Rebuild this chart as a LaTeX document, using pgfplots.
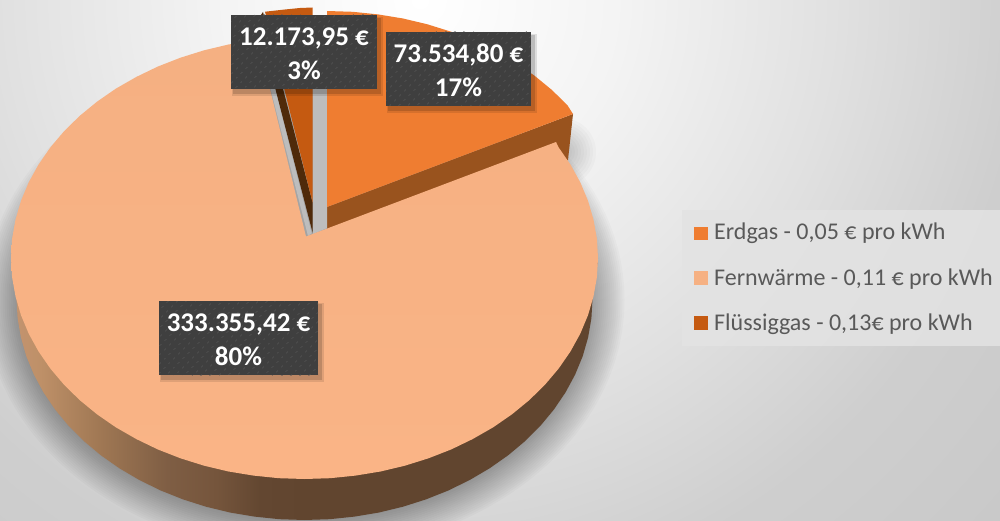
\documentclass[border=0pt]{standalone}
\usepackage{pgfplots}
\pgfplotsset{compat=1.18}
\usepackage{fontspec}
\setmainfont{Carlito}
\usetikzlibrary{patterns.meta}
\definecolor{erd}{HTML}{EF7D31}
\definecolor{erdside}{HTML}{99531E}
\definecolor{fern}{HTML}{F6B183}
\definecolor{ferntop}{HTML}{F5B082}
\definecolor{fernbot}{HTML}{FAB486}
\definecolor{fernside}{HTML}{61452F}
\definecolor{flue}{HTML}{C55A11}
\definecolor{flueside}{HTML}{4F2A0A}
\definecolor{wall}{HTML}{BDBDBD}
\definecolor{labbg}{HTML}{3F3F3F}
\definecolor{labdot}{HTML}{555555}
\definecolor{legtxt}{HTML}{595959}
\definecolor{sa}{HTML}{C49470}
\definecolor{sb}{HTML}{BE9068}
\definecolor{sc}{HTML}{A07854}
\definecolor{sd}{HTML}{7F5E44}
\definecolor{se}{HTML}{75553C}
\definecolor{sf}{HTML}{634731}
\definecolor{sg}{HTML}{61452F}
\pgfdeclareradialshading{bgshade}{\pgfpoint{0bp}{0bp}}{%
 color(0bp)=(white); color(6.25bp)=(white!95.5!black); color(13.1bp)=(white!88!black);
 color(18.75bp)=(white!81!black); color(25bp)=(white!78.5!black); color(50bp)=(white!78.5!black)}
\pgfdeclarehorizontalshading{sideL}{100bp}{%
 color(0bp)=(sa); color(25bp)=(sa); color(30bp)=(sb); color(40bp)=(sc);
 color(51.6bp)=(sd); color(60bp)=(se); color(67.4bp)=(sf); color(75bp)=(sg); color(100bp)=(sg)}
\newcommand{\lab}[6]{%
 \fill[black,opacity=.10] (axis cs:#1+1,#2+2) rectangle (axis cs:#3+6,#4+7);
 \fill[black,opacity=.15] (axis cs:#1+2,#2+3) rectangle (axis cs:#3+4,#4+5);
 \fill[labbg] (axis cs:#1,#2) rectangle (axis cs:#3,#4);
 \fill[pattern={Dots[distance=6.4pt,angle=45,radius=1pt]},pattern color=labdot] (axis cs:#1,#2) rectangle (axis cs:#3,#4);
 \node[text=white,font=\fontsize{27}{30}\selectfont\bfseries,anchor=center,inner sep=0pt] at (axis cs:{(#1+#3)/2},#2+23) {#5};
 \node[text=white,font=\fontsize{27}{30}\selectfont\bfseries,anchor=center,inner sep=0pt] at (axis cs:{(#1+#3)/2},#2+55) {#6};
}
\begin{document}
\begin{tikzpicture}
\useasboundingbox (0,0) rectangle (1000pt,521pt);
\begin{scope}[x=1pt,y=-1pt,shift={(0pt,521pt)}]
\clip (0,0) rectangle (1000,521);
\shade[shading=bgshade] (420,0) circle (800);
\foreach \k in {0,2,...,32}{
 \fill[black,opacity=.018] (304.5,300) ellipse ({288+\k} and {221+\k});
}
\foreach \k in {4,7,...,34}{
 \fill[black,opacity=.02] (562,152) circle (\k);
}
\end{scope}
\begin{axis}[at={(0,0)},anchor=south west,scale only axis,width=1000pt,height=521pt,
 xmin=0,xmax=1000,ymin=0,ymax=521,y dir=reverse,hide axis,clip=false]
% Fluessiggas: inner wall, top
\addplot[fill=flueside,draw=none] coordinates {(257.5,20)(263,12)(312.7,203)(312.7,233)} -- cycle;
\addplot[fill=wall,draw=none] coordinates {(253,20)(257.5,20)(311.7,233.3)(308,236)} -- cycle;
\addplot[fill=flue,draw=none] coordinates {(312.7,203)(312.7,7.5)(300,8)(285,9.5)(265,11.7)} -- cycle;
% Erdgas: front wall, inner wall, top
\addplot[fill=erdside,draw=none] coordinates {(327,207)(573,114)(568,160)(327,255)} -- cycle;
\addplot[fill=wall,draw=none] coordinates {(313,20)(327,20)(327,228)(313,234)} -- cycle;
\addplot[fill=erd,draw=none] coordinates {(327,207)(327,11)(352.6,11.8)(378,14.4)(403,18.5)(427.4,24.3)(451,31.7)(473.8,40.6)(495.3,51)(515.7,62.7)(534.5,75.7)(551.8,89.9)(567.4,105.2)(573,114)} -- cycle;
% Fernwaerme: side wall (right part, left part), top
\addplot[fill=fernside,draw=none] coordinates {(598,258)(592.5,299)(591.4,318.3)(588.1,337.4)(582.7,356.2)(575.1,374.6)(565.5,392.4)(553.9,409.5)(540.4,425.8)(525.1,441.1)(508.1,455.3)(489.6,468.3)(469.7,480)(448.5,490.4)(426.2,499.3)(403,506.7)(379,512.5)(354.5,516.6)(329.6,519.2)(304,520)(304,400)} -- cycle;
\addplot[shade,shading=sideL,draw=none] coordinates {(304.5,400)(304.5,520)(279.4,519.2)(254.5,516.6)(230,512.5)(206,506.7)(182.8,499.3)(160.5,490.4)(139.3,480)(119.4,468.3)(100.9,455.3)(83.9,441.1)(68.6,425.8)(55.1,409.5)(43.5,392.4)(33.9,374.6)(26.3,356.2)(20.9,337.4)(17.6,318.3)(16.5,299)(11,258)} -- cycle;
\addplot[top color=ferntop,bottom color=fernbot,draw=none] coordinates {(306,236.5)(556,142)(558.7,147.5)(570.5,164.6)(580.3,182.4)(588,200.8)(593.5,219.6)(596.9,238.7)(598,258)(596.9,277.3)(593.5,296.4)(588,315.2)(580.3,333.6)(570.5,351.4)(558.7,368.5)(544.9,384.8)(529.3,400.1)(512,414.3)(493.2,427.3)(472.8,439)(451.3,449.4)(428.5,458.3)(404.9,465.7)(380.5,471.5)(355.5,475.6)(330.1,478.2)(304.5,479)(278.9,478.2)(253.5,475.6)(228.5,471.5)(204.1,465.7)(180.5,458.3)(157.7,449.4)(136.2,439)(115.8,427.3)(97,414.3)(79.7,400.1)(64.1,384.8)(50.3,368.5)(38.5,351.4)(28.7,333.6)(21,315.2)(15.5,296.4)(12.1,277.3)(11,258)(12.1,238.7)(15.5,219.6)(21,200.8)(28.7,182.4)(38.5,164.6)(50.3,147.5)(64.1,131.2)(79.7,115.9)(97,101.7)(115.8,88.7)(136.2,77)(157.7,66.6)(180.5,57.7)(204.1,50.3)(228.5,44.5)(253.5,40.4)(258,40)} -- cycle;
% Data labels
\lab{231}{15}{377}{89}{12.173,95 €}{3\%}
\lab{386}{32}{531}{106}{73.534,80 €}{17\%}
\lab{159}{301}{318}{375}{333.355,42 €}{80\%}
% Legend
\fill[white!89!black,opacity=.85] (axis cs:682,210) rectangle (axis cs:1000,346);
\fill[erd] (axis cs:694,227) rectangle (axis cs:708,240);
\fill[fern] (axis cs:694,271) rectangle (axis cs:708,285);
\fill[flue] (axis cs:694,316) rectangle (axis cs:708,330);
\node[anchor=base west,inner sep=0pt,text=legtxt,font=\fontsize{24}{28}\selectfont] at (axis cs:714,240) {Erdgas - 0,05 € pro kWh};
\node[anchor=base west,inner sep=0pt,text=legtxt,font=\fontsize{24}{28}\selectfont] at (axis cs:714,285) {Fernwärme - 0,11 € pro kWh};
\node[anchor=base west,inner sep=0pt,text=legtxt,font=\fontsize{24}{28}\selectfont] at (axis cs:714,330) {Flüssiggas - 0,13€ pro kWh};
\end{axis}
\end{tikzpicture}
\end{document}
